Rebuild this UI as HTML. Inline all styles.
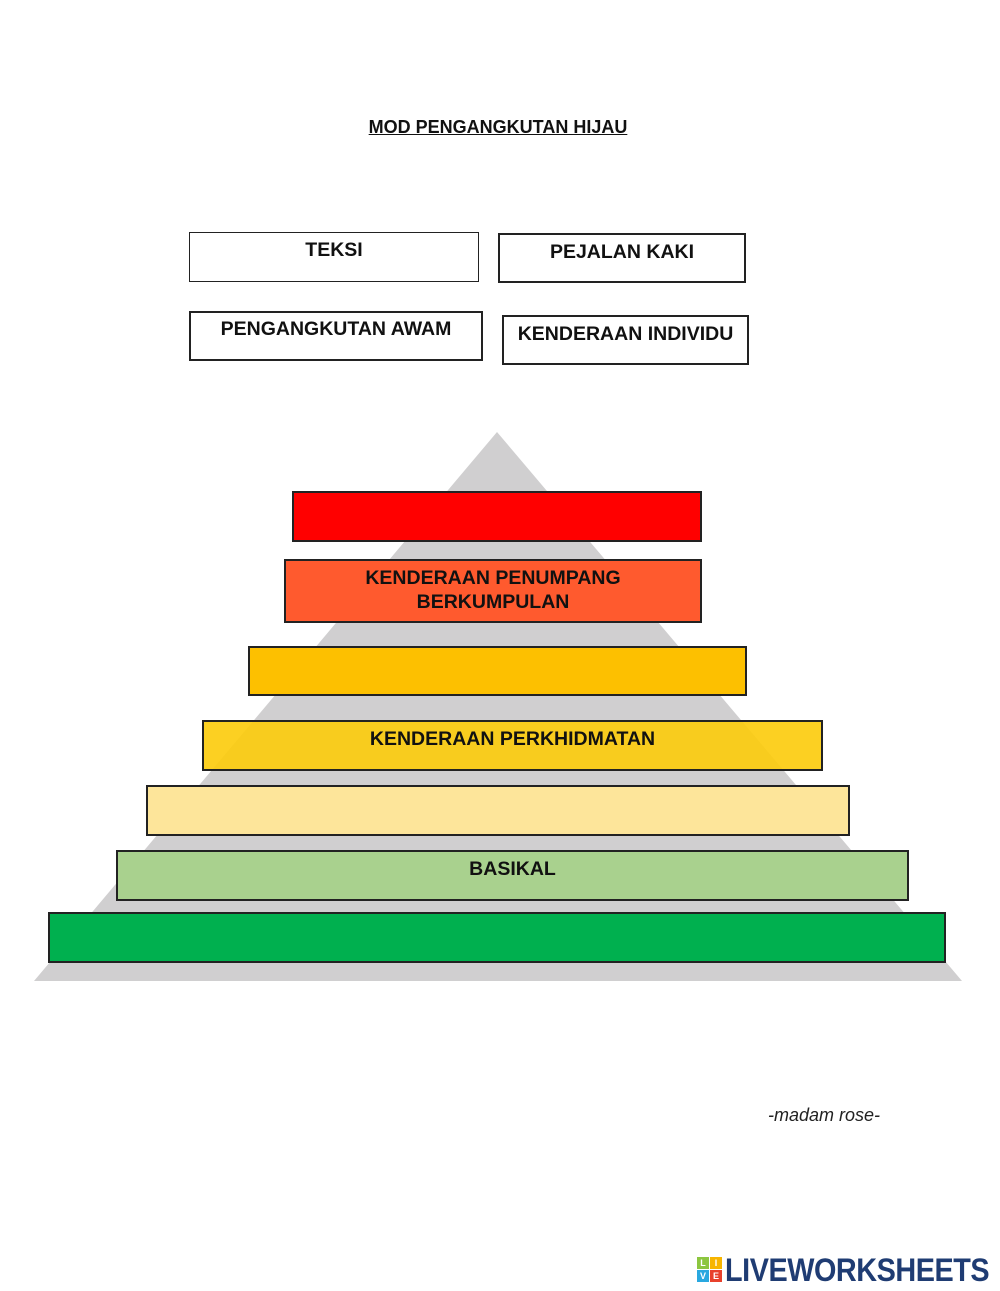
<!DOCTYPE html>
<html><head><meta charset="utf-8">
<style>
html,body{margin:0;padding:0;background:#fff;}
body{width:1000px;height:1291px;position:relative;overflow:hidden;font-family:"Liberation Sans",Arial,sans-serif;}
.b{position:absolute;box-sizing:border-box;border:2px solid #222;font-weight:bold;color:#111;text-align:center;}
.w{background:#fff;font-size:19.5px;}
.t{position:absolute;font-weight:bold;}
.l{font-size:19.5px;font-weight:bold;color:#111;}
</style></head><body>
<div class="t" style="left:-2px;width:1000px;top:117px;text-align:center;font-size:18px;text-decoration:underline;color:#111;">MOD PENGANGKUTAN HIJAU</div>

<div class="b w" style="left:189px;top:232px;width:290px;height:50px;border-width:1.5px;padding-top:6px;">TEKSI</div>
<div class="b w" style="left:498px;top:233px;width:248px;height:50px;padding-top:6px;">PEJALAN KAKI</div>
<div class="b w" style="left:189px;top:311px;width:294px;height:50px;padding-top:5px;">PENGANGKUTAN AWAM</div>
<div class="b w" style="left:502px;top:315px;width:247px;height:50px;padding-top:6px;">KENDERAAN INDIVIDU</div>

<svg style="position:absolute;left:0;top:0" width="1000" height="1291">
<polygon points="497,432 34,981 962,981" fill="#d0cfd0"/>
</svg>

<div class="b" style="left:292px;top:491px;width:410px;height:51px;background:#ff0000;"></div>
<div class="b" style="left:284px;top:559px;width:418px;height:64px;background:#ff5a2e;padding-top:5px;line-height:24px;"><div class="l">KENDERAAN PENUMPANG<br>BERKUMPULAN</div></div>
<div class="b" style="left:248px;top:646px;width:499px;height:50px;background:#fdc000;"></div>
<div class="b" style="left:202px;top:720px;width:621px;height:51px;background:rgba(252,203,10,0.9);padding-top:6px;"><div class="l">KENDERAAN PERKHIDMATAN</div></div>
<div class="b" style="left:146px;top:785px;width:704px;height:51px;background:#fde59a;"></div>
<div class="b" style="left:116px;top:850px;width:793px;height:51px;background:#a9d18e;padding-top:6px;"><div class="l">BASIKAL</div></div>
<div class="b" style="left:48px;top:912px;width:898px;height:51px;background:#00b04f;"></div>

<div style="position:absolute;left:768px;top:1105px;font-size:18px;font-style:italic;color:#222;">-madam rose-</div>

<div style="position:absolute;left:697px;top:1257px;width:26px;height:26px;">
<div style="position:absolute;left:0;top:0;width:12px;height:12px;background:#8cc63f;color:#fff;font-size:9px;font-weight:bold;text-align:center;line-height:12px;">L</div>
<div style="position:absolute;left:13px;top:0;width:12px;height:12px;background:#f7b500;color:#fff;font-size:9px;font-weight:bold;text-align:center;line-height:12px;">I</div>
<div style="position:absolute;left:0;top:13px;width:12px;height:12px;background:#29a8e0;color:#fff;font-size:9px;font-weight:bold;text-align:center;line-height:12px;">V</div>
<div style="position:absolute;left:13px;top:13px;width:12px;height:12px;background:#e8412c;color:#fff;font-size:9px;font-weight:bold;text-align:center;line-height:12px;">E</div>
</div>
<div style="position:absolute;left:725px;top:1252px;font-size:32px;font-weight:bold;color:#1f3c73;letter-spacing:-0.5px;transform:scaleX(0.9);transform-origin:left;">LIVEWORKSHEETS</div>
</body></html>
